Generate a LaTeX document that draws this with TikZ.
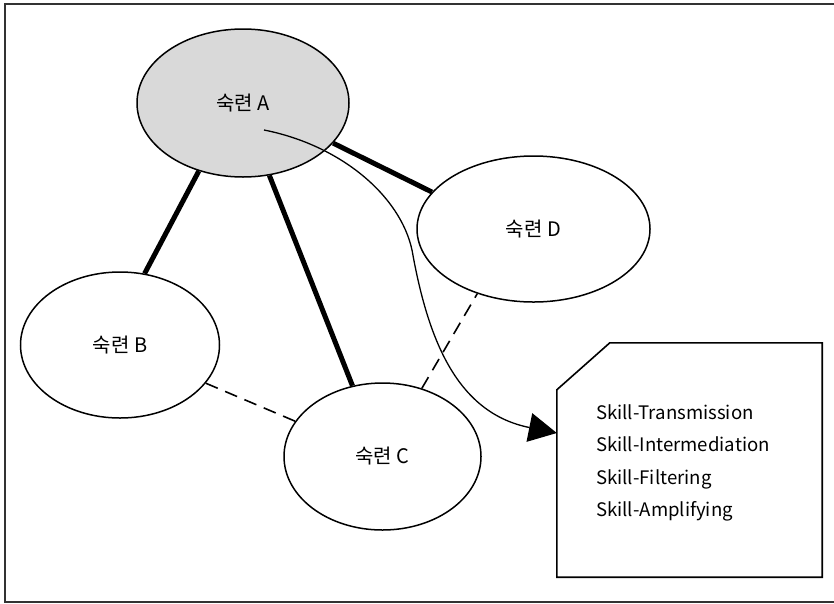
\documentclass[tikz,border=0pt]{standalone}
\usepackage{fontspec}
\setmainfont{Noto Sans CJK KR}
\usetikzlibrary{arrows.meta,calc,shapes.geometric}

\begin{document}
\begin{tikzpicture}[x=1pt,y=-1pt,
  skillnode/.style={ellipse,draw,line width=1.5pt,inner sep=0pt,
    font=\fontsize{20}{24}\selectfont},
  strong/.style={line width=5pt},
  weak/.style={line width=1.6pt,dash pattern=on 13pt off 8pt},
  itemtext/.style={anchor=base west,inner sep=0pt,
    font=\fontsize{18.6}{22}\selectfont},
  frame/.style={line width=1.8pt,draw=black!80}]
\useasboundingbox (0,0) rectangle (834,603);

% page frame (open on the right)
\draw[frame] (834,4) -- (5,4) -- (5,602) -- (834,602);

% skill holders
\node[skillnode,fill=black!15,minimum width=212,minimum height=148] (A) at (243,103) {숙련 A};
\node[skillnode,minimum width=199,minimum height=146] (B) at (120,345) {숙련 B};
\node[skillnode,minimum width=197,minimum height=147] (C) at (382.5,456.5) {숙련 C};
\node[skillnode,minimum width=233,minimum height=146] (D) at (533.5,229) {숙련 D};

% strong ties
\draw[strong] (A.237) -- (B.71);
\draw[strong] (A.290) -- (C.113);
\draw[strong] (A.336.5) -- (D.160);

% weak ties
\draw[weak] (B.336) -- (C.158.5);
\draw[weak] (C.60.4) -- (D.229);

% note box with a cut corner
\node[minimum width=265,minimum height=234,inner sep=0pt] (box) at (689.5,460) {};
\draw[line width=1.6pt]
  ($(box.north west)+(53,0)$) -- (box.north east) -- (box.south east)
  -- (box.south west) -- ($(box.north west)+(0,47)$) -- cycle;

\node[itemtext] (t1) at (596,419) {Skill-Transmission};
\node[itemtext] (t2) at (596,451.5) {Skill-Intermediation};
\node[itemtext] (t3) at (596,484) {Skill-Filtering};
\node[itemtext] (t4) at (596,516.5) {Skill-Amplifying};

% flow from A into the note
\coordinate (start) at ($(A.center)+(21,27)$);
\coordinate (mid) at (412,250);
\coordinate (tip) at ($(box.west)+(0,-27)$);
\draw[line width=1.3pt,-{Triangle[length=28pt,width=29pt]}]
  (start) .. controls (340,145) and (400,195) .. (mid)
  .. controls (428,340) and (457,413) .. (tip);
\end{tikzpicture}
\end{document}
